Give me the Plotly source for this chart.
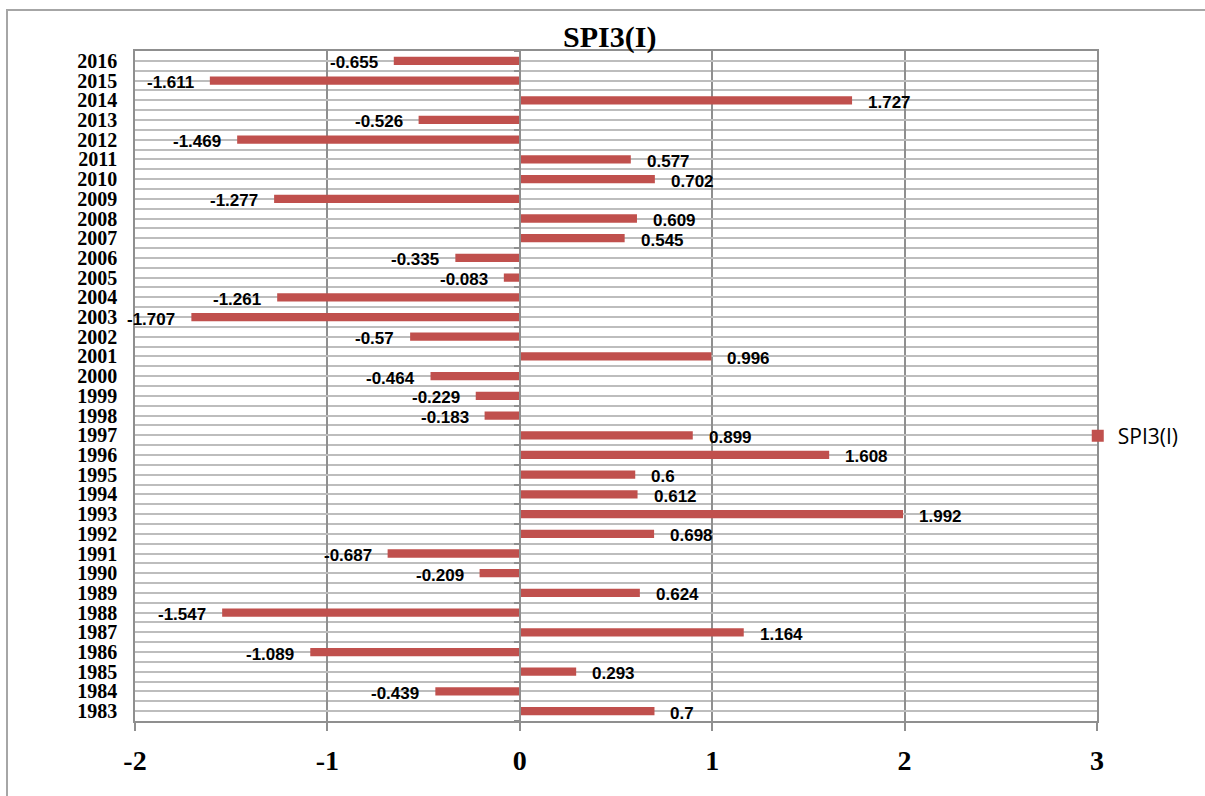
import plotly.graph_objects as go

# SPI3(I) index per year
years = [2016, 2015, 2014, 2013, 2012, 2011, 2010, 2009, 2008, 2007, 2006, 2005,
         2004, 2003, 2002, 2001, 2000, 1999, 1998, 1997, 1996, 1995, 1994, 1993,
         1992, 1991, 1990, 1989, 1988, 1987, 1986, 1985, 1984, 1983]
spi3 = [-0.655, -1.611, 1.727, -0.526, -1.469, 0.577, 0.702, -1.277, 0.609, 0.545,
        -0.335, -0.083, -1.261, -1.707, -0.57, 0.996, -0.464, -0.229, -0.183, 0.899,
        1.608, 0.6, 0.612, 1.992, 0.698, -0.687, -0.209, 0.624, -1.547, 1.164,
        -1.089, 0.293, -0.439, 0.7]
x_ticks = [-2, -1, 0, 1, 2, 3]

series_name = "SPI3(I)"
bar_color = "#C0504D"
grid_h = "#BDBDBD"
grid_v = "#8F8F8F"
serif = "Liberation Serif, Times New Roman, serif"
sans = "Open Sans, sans-serif"
label_font = "Liberation Sans, Arial, sans-serif"

fig = go.Figure()
fig.add_trace(go.Bar(
    y=years, x=spi3, orientation="h", name=series_name,
    marker=dict(color=bar_color, line=dict(width=0)),
    width=0.42,
))

# helper trace so the crossing axis at x=0 gets drawn
fig.add_trace(go.Scatter(x=[0], y=[years[0]], yaxis="y2", mode="markers",
                         marker=dict(opacity=0), showlegend=False, hoverinfo="skip"))

# value labels beside each bar end
for yr, v in zip(years, spi3):
    fig.add_annotation(
        x=v, y=yr, text=f"{v:g}", showarrow=False, borderpad=0,
        xanchor="left" if v >= 0 else "right",
        xshift=15 if v >= 0 else -15, yshift=-2,
        font=dict(family=label_font, size=17, color="#000000", weight="bold"),
    )

xmin, xmax = -2, 3
ylo, yhi = min(years) - 0.5, max(years) + 0.5

fig.update_layout(
    width=1205, height=796,
    margin=dict(l=135, r=108, t=51, b=75, autoexpand=False),
    paper_bgcolor="white", plot_bgcolor="white",
    title=dict(text="<b>SPI3(I)</b>", x=0.506, xref="container", xanchor="center",
               y=1 - 36 / 796, yref="container", yanchor="middle",
               font=dict(family=serif, size=30, color="#000000")),
    xaxis=dict(range=[xmin, xmax], tickvals=x_ticks, ticktext=[str(t) for t in x_ticks],
               showgrid=True, gridcolor=grid_v, gridwidth=1.6, zeroline=False,
               showline=True, linecolor=grid_v, linewidth=1.6, mirror=True,
               ticks="outside", ticklen=8, tickcolor=grid_v, tickwidth=1.6,
               ticklabelstandoff=6,
               tickfont=dict(family=serif, size=28, color="#000000", weight="bold")),
    yaxis=dict(range=[ylo, yhi], tickvals=years, showgrid=True,
               gridcolor=grid_h, gridwidth=1.6, zeroline=False,
               minor=dict(tick0=0.5, dtick=1, showgrid=True,
                          gridcolor=grid_h, gridwidth=1.6),
               showline=True, linecolor=grid_v, linewidth=1.6, mirror=True,
               ticks="", ticklabelstandoff=12,
               tickfont=dict(family=serif, size=20, color="#000000", weight="bold")),
    yaxis2=dict(range=[ylo, yhi], overlaying="y", anchor="free",
                position=(0 - xmin) / (xmax - xmin), side="left",
                showgrid=False, zeroline=False, showticklabels=False,
                showline=True, linecolor=grid_v, linewidth=1.6,
                tickvals=[y + 0.5 for y in years] + [ylo],
                ticks="outside", ticklen=5, tickcolor=grid_v, tickwidth=1.6),
    legend=dict(x=0.98, xanchor="left", y=1 - (436 - 51) / 670, yanchor="middle",
                itemwidth=30,
                font=dict(family=sans, size=21, color="#000000"),
                bgcolor="rgba(0,0,0,0)"),
    shapes=[dict(type="rect", xref="paper", yref="paper",
                 x0=(7 - 135) / 962, x1=1.3, y0=-0.3, y1=1 + (51 - 10) / 670,
                 line=dict(color="#A6A6A6", width=2), layer="below")],
)

fig.write_html("out.html")
